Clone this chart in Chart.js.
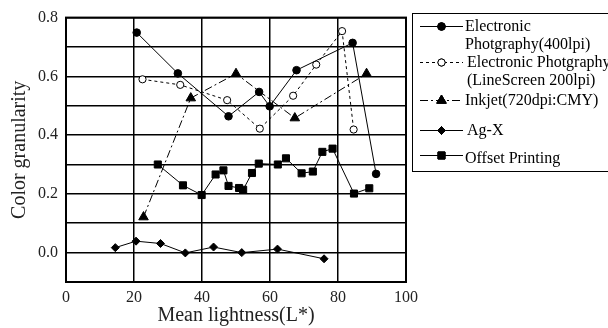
<!DOCTYPE html>
<html>
<head>
<meta charset="utf-8">
<script src="https://cdn.jsdelivr.net/npm/chart.js@4/dist/chart.umd.min.js"></script>
<style>
  html, body { margin: 0; padding: 0; background: #fff; }
  #wrap { width: 608px; height: 328px; position: relative; }
</style>
</head>
<body>
<div id="wrap"><canvas id="chart" width="608" height="328"></canvas></div>
<script>
// data
const ep400X = [20.8, 32.9, 47.8, 56.8, 59.9, 67.8, 84.3, 91.2];
const ep400Y = [0.749, 0.610, 0.464, 0.547, 0.498, 0.621, 0.714, 0.268];

const ep200X = [22.5, 33.6, 47.4, 57.0, 66.8, 73.6, 81.2, 84.6];
const ep200Y = [0.590, 0.571, 0.519, 0.422, 0.534, 0.640, 0.754, 0.419];

const inkjetX = [22.8, 36.7, 50.0, 67.3, 88.4];
const inkjetY = [0.121, 0.526, 0.609, 0.458, 0.609];

const agxX = [14.5, 20.6, 27.8, 35.1, 43.4, 51.7, 62.2, 75.9];
const agxY = [0.017, 0.039, 0.031, -0.001, 0.019, 0.0, 0.012, -0.021];

const offsetX = [27.0, 34.4, 39.9, 44.0, 46.3, 47.8, 50.9, 52.1, 54.7, 56.7, 62.3, 64.7, 69.3, 72.6, 75.4, 78.4, 84.7, 89.2];
const offsetY = [0.300, 0.229, 0.196, 0.266, 0.280, 0.227, 0.220, 0.214, 0.271, 0.303, 0.300, 0.321, 0.270, 0.276, 0.343, 0.354, 0.201, 0.219];

const legendLines = [
  ["Electronic", "Photgraphy(400lpi)"],
  ["Electronic Photgraphy", "(LineScreen 200lpi)"],
  ["Inkjet(720dpi:CMY)"],
  ["Ag-X"],
  ["Offset Printing"]
];

const xTicks = [0, 20, 40, 60, 80, 100];
const yLabelled = [0.8, 0.6, 0.4, 0.2, 0.0];

const FONT = "'Liberation Serif', 'Times New Roman', serif";

function pts(xs, ys) {
  return xs.map((x, i) => ({ x: x, y: ys[i] }));
}

function series(label, xs, ys, style, extra) {
  return Object.assign({
    label: label,
    data: pts(xs, ys),
    borderColor: '#000',
    backgroundColor: '#000',
    borderWidth: 1,
    pointStyle: style,
    pointBorderColor: '#000',
    pointBackgroundColor: '#000',
    pointBorderWidth: 1,
    pointRadius: 4,
    showLine: true,
    tension: 0
  }, extra || {});
}

const datasets = [
  series(legendLines[0].join(' '), ep400X, ep400Y, 'circle', { pointRadius: 3.8 }),
  series(legendLines[1].join(' '), ep200X, ep200Y, 'circle', { pointRadius: 3.6, pointBackgroundColor: '#fff', borderDash: [3, 3] }),
  series(legendLines[2].join(' '), inkjetX, inkjetY, 'triangle', { pointRadius: 5.5, borderDash: [8, 3, 2, 3] }),
  series(legendLines[3].join(' '), agxX, agxY, 'rectRot', { pointRadius: 4 }),
  series(legendLines[4].join(' '), offsetX, offsetY, 'rect', { pointRadius: 5 })
];

// frame round the plot area
const framePlugin = {
  id: 'frame',
  afterDraw(c) {
    const a = c.chartArea, ctx = c.ctx;
    ctx.save();
    ctx.strokeStyle = '#000';
    ctx.lineWidth = 2;
    ctx.strokeRect(a.left, a.top, a.right - a.left, a.bottom - a.top);
    ctx.restore();
  }
};

// legend box to the right, drawn like the original
const legendPlugin = {
  id: 'sideLegend',
  afterDraw(c) {
    const ctx = c.ctx;
    const rowsY = [26, 62, 100, 130, 155];
    ctx.save();
    ctx.strokeStyle = '#000';
    ctx.lineWidth = 1;
    ctx.strokeRect(412.5, 13.5, 220, 158);
    ctx.font = '16px ' + FONT;
    ctx.fillStyle = '#000';
    ctx.textBaseline = 'middle';
    c.data.datasets.forEach((ds, i) => {
      const y = rowsY[i];
      ctx.save();
      ctx.lineWidth = 1;
      ctx.setLineDash(ds.borderDash || []);
      ctx.beginPath();
      ctx.moveTo(420, y + 0.5);
      ctx.lineTo(463, y + 0.5);
      ctx.stroke();
      ctx.restore();
      Chart.helpers.drawPoint(ctx, {
        pointStyle: ds.pointStyle,
        radius: ds.pointRadius,
        borderWidth: 1
      }, 441.5, y + 0.5);
      ctx.fillStyle = ds.pointBackgroundColor;
      ctx.strokeStyle = '#000';
      ctx.fill();
      ctx.stroke();
      ctx.fillStyle = '#000';
      const lines = legendLines[i];
      const tx = i === 1 || i === 3 ? 467 : 465;
      const ty = i === 4 ? y + 4 : y + 1;
      lines.forEach((t, k) => ctx.fillText(t, tx, ty + k * 18));
    });
    ctx.restore();
  }
};

new Chart(document.getElementById('chart'), {
  type: 'scatter',
  data: { datasets: datasets },
  options: {
    responsive: false,
    animation: false,
    layout: { padding: { top: 14, right: 202, left: 0, bottom: 0 } },
    plugins: {
      legend: { display: false },
      tooltip: { enabled: false }
    },
    scales: {
      x: {
        type: 'linear',
        min: 0,
        max: 100,
        afterFit: s => { s.height = 46; },
        afterBuildTicks: s => { s.ticks = xTicks.map(v => ({ value: v })); },
        ticks: { color: '#222', font: { family: FONT, size: 16 }, padding: 6, maxRotation: 0 },
        grid: { color: '#000', lineWidth: 1.5, drawTicks: false },
        border: { color: '#000', width: 2 },
        title: { display: true, text: 'Mean lightness(L*)', color: '#222', font: { family: FONT, size: 20 }, padding: { top: 0, bottom: 0 } }
      },
      y: {
        min: -0.1,
        max: 0.8,
        afterFit: s => { s.width = 66; },
        ticks: {
          stepSize: 0.1,
          color: '#222',
          font: { family: FONT, size: 16 },
          padding: 8,
          callback: v => yLabelled.some(t => Math.abs(t - v) < 1e-6) ? v.toFixed(1) : ''
        },
        grid: { color: '#000', lineWidth: 1.5, drawTicks: false },
        border: { color: '#000', width: 2 },
        title: { display: true, text: 'Color granularity', color: '#222', font: { family: FONT, size: 20 }, padding: { top: 8, bottom: 0 } }
      }
    }
  },
  plugins: [framePlugin, legendPlugin]
});
</script>
</body>
</html>
